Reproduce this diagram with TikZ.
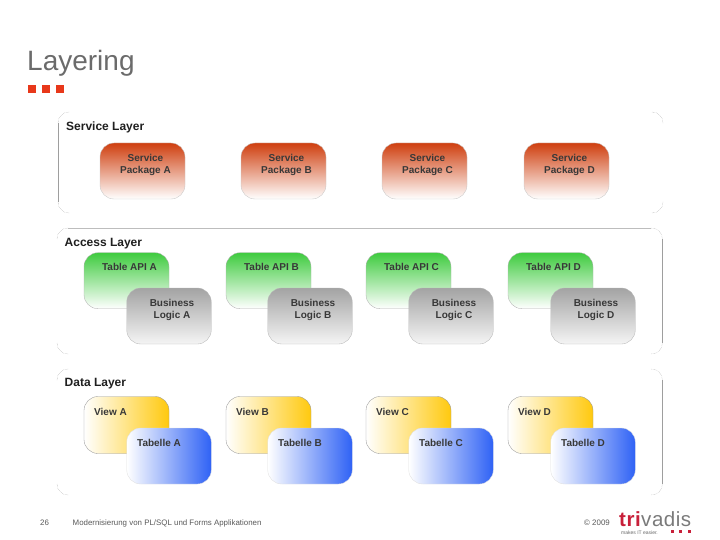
\documentclass[tikz,border=0pt]{standalone}
\usepackage{fontspec}
\setmainfont{Liberation Sans}
\newfontfamily\logoface[LetterSpace=2.5]{Liberation Sans}
\definecolor{svc}{HTML}{CF3F0F}
\definecolor{grn}{HTML}{3FCB3F}
\definecolor{yel}{HTML}{FFC90E}
\definecolor{blu}{HTML}{2F62F5}
\definecolor{squarered}{HTML}{E8381A}
\definecolor{logored}{HTML}{C8203A}
\definecolor{logogrey}{HTML}{7A7A7A}
\tikzset{
  px/.style={x=1pt,y=-1pt},
  edgeline/.style={draw=black!38,line width=.6pt},
  topline/.style={draw=black!26,line width=.7pt},
  cornerline/.style={draw=black!38,line width=.4pt,densely dotted},
  boxbase/.style={rounded corners=14pt,line width=.35pt,inner sep=0pt},
  svcbox/.style={boxbase,draw=black!22,shade,top color=svc,bottom color=white,minimum width=85pt,minimum height=56pt},
  grnbox/.style={boxbase,draw=black!30,shade,top color=grn,bottom color=white,minimum width=85pt,minimum height=56pt},
  grybox/.style={boxbase,draw=black!28,shade,top color=black!36,bottom color=black!4,minimum width=84.5pt,minimum height=56pt},
  yelbox/.style={boxbase,draw=black!40,shade,left color=white,right color=yel,minimum width=85pt,minimum height=57pt},
  blubox/.style={boxbase,draw=black!12,shade,left color=white,right color=blu,minimum width=84.5pt,minimum height=56pt},
  layerlabel/.style={font=\bfseries\fontsize{12}{13}\selectfont,text=black!88,anchor=base west,inner sep=0pt},
  boxtext/.style={font=\bfseries\fontsize{10}{12}\selectfont,text=black!78,inner sep=0pt,align=center,anchor=base},
  foot/.style={font=\fontsize{7.9}{9}\selectfont,text=black!65,inner sep=0pt,anchor=base west},
  redsq/.style={fill=squarered,draw=none,minimum size=8pt,inner sep=0pt},
  logodot/.style={fill=logored,minimum size=3pt,inner sep=0pt},
}
% only the rounded corners of a layer frame: left, top, right, bottom
\newcommand{\layercorners}[4]{%
  \draw[cornerline] (#1,#2+11) .. controls (#1,#2+5) and (#1+5,#2) .. (#1+11,#2);
  \draw[cornerline] (#3-11,#2) .. controls (#3-5,#2) and (#3,#2+5) .. (#3,#2+11);
  \draw[cornerline] (#1,#4-11) .. controls (#1,#4-5) and (#1+5,#4) .. (#1+11,#4);
  \draw[cornerline] (#3-11,#4) .. controls (#3-5,#4) and (#3,#4-5) .. (#3,#4-11);
}
\begin{document}
\begin{tikzpicture}[px]
\useasboundingbox (0,0) rectangle (720,540);
\node[font=\fontsize{28}{30}\selectfont,text=black!58,anchor=base west,inner sep=0pt] (title) at (27,71) {Layering};
\node[redsq] (sq1) at (32,89) {};
\node[redsq] (sq2) at (46,89) {};
\node[redsq] (sq3) at (60,89) {};

% layers
\layercorners{58}{112}{663}{213}
\draw[edgeline] (58,123) -- (58,202);
\layercorners{57}{228}{662.5}{354}
\draw[topline] (68,228) -- (651,228);
\draw[edgeline] (662.5,239) -- (662.5,343);
\layercorners{57}{369}{662.5}{495}
\draw[edgeline] (662.5,380) -- (662.5,484);
\node[layerlabel] (L1) at (66,130.7) {Service Layer};
\node[layerlabel] (L2) at (64.5,246.7) {Access Layer};
\node[layerlabel] (L3) at (64.5,386.7) {Data Layer};

% service
\foreach \n/\x in {A/142.5,B/283.5,C/424.5,D/566.5}{
  \node[svcbox] (S\n) at (\x,171) {};
  \node[boxtext] at (\x+3,161.7) {Service};
  \node[boxtext] at (\x+3,174) {Package \n};
}
% access
\foreach \n/\x/\y in {A/126.5/169,B/268.5/310,C/408.5/451,D/550.5/593}{
  \node[grnbox] (T\n) at (\x,280.7) {};
  \node[boxtext] at (\x+3,270.7) {Table API \n};
  \node[grybox] (G\n) at (\y,316) {};
  \node[boxtext] at (\y+3,306) {Business};
  \node[boxtext] at (\y+3,318) {Logic \n};
}
% data
\foreach \n/\x/\y in {A/126.5/169,B/268.5/310,C/408.5/451,D/550.5/593}{
  \node[yelbox] (V\n) at (\x,425) {};
  \node[boxtext,anchor=base west] at (\x-32.5,415.7) {View \n};
  \node[blubox] (B\n) at (\y,456) {};
  \node[boxtext] at (\y-10,446) {Tabelle \n};
}
% footer
\node[foot] (pg) at (40,525) {26};
\node[foot] (ft) at (72.5,525) {Modernisierung von PL/SQL und Forms Applikationen};
\node[foot] (cp) at (584,525) {© 2009};
\node[font=\logoface\fontsize{20.5}{21}\selectfont,anchor=base west,inner sep=0pt] (logo) at (619,526) {\textcolor{logored}{\textbf{tri}}\textcolor{logogrey}{vadis}};
\node[font=\fontsize{5}{6}\selectfont,text=black!60,anchor=base west,inner sep=0pt] (sl) at (621,534) {makes IT easier.};
\node[logodot] (d1) at (672,531.7) {};
\node[logodot] (d2) at (680.5,531.7) {};
\node[logodot] (d3) at (689,531.7) {};
\end{tikzpicture}
\end{document}
